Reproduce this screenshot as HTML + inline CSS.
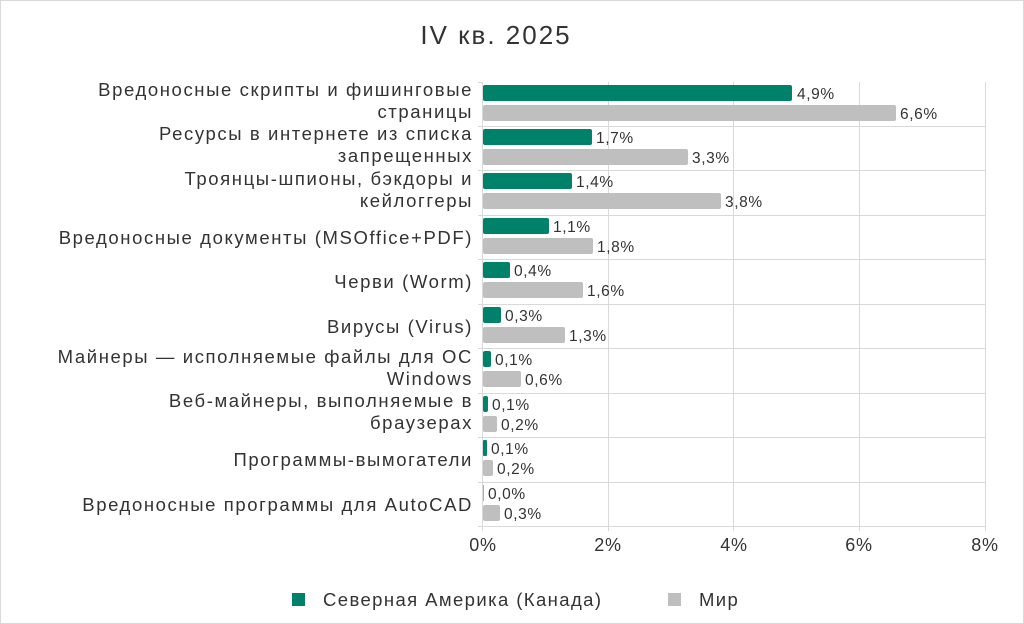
<!DOCTYPE html>
<html><head><meta charset="utf-8"><style>
body{margin:0;background:#fff}
svg{display:block;font-family:"Liberation Sans",sans-serif}
</style></head><body>
<svg width="1024" height="624" viewBox="0 0 1024 624" xmlns="http://www.w3.org/2000/svg">
<rect x="0.5" y="0.5" width="1023" height="623" fill="#fff" stroke="#d9d9d9"/>
<text x="496" y="44" font-size="26" letter-spacing="2" text-anchor="middle" fill="#333">IV кв. 2025</text>
<g stroke="#d9d9d9" stroke-width="1">
<line x1="608.5" y1="82" x2="608.5" y2="526"/>
<line x1="733.5" y1="82" x2="733.5" y2="526"/>
<line x1="859.5" y1="82" x2="859.5" y2="526"/>
<line x1="985.5" y1="82" x2="985.5" y2="526"/>
<line x1="478" y1="126.5" x2="985" y2="126.5"/>
<line x1="478" y1="170.5" x2="985" y2="170.5"/>
<line x1="478" y1="215.5" x2="985" y2="215.5"/>
<line x1="478" y1="259.5" x2="985" y2="259.5"/>
<line x1="478" y1="304.5" x2="985" y2="304.5"/>
<line x1="478" y1="348.5" x2="985" y2="348.5"/>
<line x1="478" y1="393.5" x2="985" y2="393.5"/>
<line x1="478" y1="437.5" x2="985" y2="437.5"/>
<line x1="478" y1="482.5" x2="985" y2="482.5"/>
<line x1="478" y1="82.5" x2="483" y2="82.5"/>
<line x1="482.5" y1="82" x2="482.5" y2="531"/>
<line x1="478" y1="526.5" x2="985" y2="526.5"/>
<line x1="608.5" y1="526" x2="608.5" y2="531"/>
<line x1="733.5" y1="526" x2="733.5" y2="531"/>
<line x1="859.5" y1="526" x2="859.5" y2="531"/>
<line x1="985.5" y1="526" x2="985.5" y2="531"/>
</g>
<g font-size="18.5" letter-spacing="1.6" fill="#333" text-anchor="end">
<text x="473" y="96">Вредоносные скрипты и фишинговые</text><text x="473" y="118">страницы</text>
<text x="473" y="140">Ресурсы в интернете из списка</text><text x="473" y="162">запрещенных</text>
<text x="473" y="185">Троянцы-шпионы, бэкдоры и</text><text x="473" y="207">кейлоггеры</text>
<text x="473" y="244">Вредоносные документы (MSOffice+PDF)</text>
<text x="473" y="288">Черви (Worm)</text>
<text x="473" y="333">Вирусы (Virus)</text>
<text x="473" y="363">Майнеры — исполняемые файлы для ОС</text><text x="473" y="385">Windows</text>
<text x="473" y="407">Веб-майнеры, выполняемые в</text><text x="473" y="429">браузерах</text>
<text x="473" y="466">Программы-вымогатели</text>
<text x="473" y="511">Вредоносные программы для AutoCAD</text>
</g>
<g fill="#00826a">
<rect x="483" y="85" width="309" height="16" rx="2"/>
<rect x="483" y="129" width="109" height="16" rx="2"/>
<rect x="483" y="173" width="89" height="16" rx="2"/>
<rect x="483" y="218" width="66" height="16" rx="2"/>
<rect x="483" y="262" width="27" height="16" rx="2"/>
<rect x="483" y="307" width="18" height="16" rx="2"/>
<rect x="483" y="351" width="8" height="16" rx="2"/>
<rect x="483" y="396" width="5" height="16" rx="2"/>
<rect x="483" y="440" width="4" height="16" rx="1"/>
<rect x="483" y="485" width="1" height="16" fill="#7fc4b5"/>
</g>
<g fill="#bfbfbf">
<rect x="483" y="105" width="413" height="16" rx="2"/>
<rect x="483" y="149" width="205" height="16" rx="2"/>
<rect x="483" y="193" width="238" height="16" rx="2"/>
<rect x="483" y="238" width="110" height="16" rx="2"/>
<rect x="483" y="282" width="100" height="16" rx="2"/>
<rect x="483" y="327" width="82" height="16" rx="2"/>
<rect x="483" y="371" width="38" height="16" rx="2"/>
<rect x="483" y="416" width="14" height="16" rx="2"/>
<rect x="483" y="460" width="10" height="16" rx="2"/>
<rect x="483" y="505" width="17" height="16" rx="2"/>
</g>
<g font-size="15.5" letter-spacing="0.6" fill="#333">
<text x="797" y="99">4,9%</text><text x="900" y="119">6,6%</text>
<text x="596" y="143">1,7%</text><text x="692" y="163">3,3%</text>
<text x="576" y="187">1,4%</text><text x="725" y="207">3,8%</text>
<text x="553" y="232">1,1%</text><text x="597" y="252">1,8%</text>
<text x="514" y="276">0,4%</text><text x="587" y="296">1,6%</text>
<text x="505" y="321">0,3%</text><text x="569" y="341">1,3%</text>
<text x="495" y="365">0,1%</text><text x="525" y="385">0,6%</text>
<text x="492" y="410">0,1%</text><text x="501" y="430">0,2%</text>
<text x="491" y="454">0,1%</text><text x="497" y="474">0,2%</text>
<text x="488" y="499">0,0%</text><text x="504" y="519">0,3%</text>
</g>
<g font-size="18" letter-spacing="0.8" fill="#333" text-anchor="middle">
<text x="483" y="551">0%</text><text x="608" y="551">2%</text><text x="734" y="551">4%</text><text x="859" y="551">6%</text><text x="985" y="551">8%</text>
</g>
<rect x="292" y="593" width="13" height="13" fill="#00826a"/>
<text x="323" y="606" font-size="18.5" letter-spacing="1.4" fill="#333">Северная Америка (Канада)</text>
<rect x="668" y="593" width="13" height="13" fill="#bfbfbf"/>
<text x="699" y="606" font-size="18.5" letter-spacing="1.4" fill="#333">Мир</text>
</svg>
</body></html>
